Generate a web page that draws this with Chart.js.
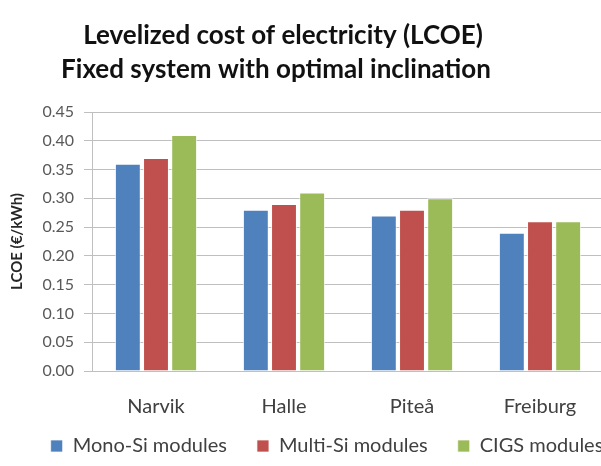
<!DOCTYPE html>
<html>
<head>
<meta charset="utf-8">
<script src="https://cdn.jsdelivr.net/npm/chart.js@4"></script>
<style>
  html, body { margin: 0; padding: 0; background: #fff; overflow: hidden; }
  #wrap { width: 654px; height: 466px; }
</style>
</head>
<body>
<div id="wrap"><canvas id="lcoeChart"></canvas></div>
<script>
const sites = ['Narvik', 'Halle', 'Piteå', 'Freiburg'];
const monoSi = [0.36, 0.28, 0.27, 0.24];
const multiSi = [0.37, 0.29, 0.28, 0.26];
const cigs = [0.41, 0.31, 0.30, 0.26];
const titleLines = ['Levelized cost of electricity (LCOE)', 'Fixed system with optimal inclination'];

// two-line heading, drawn a bit left of the canvas centre
const headingPlugin = {
  id: 'heading',
  afterDraw(chart) {
    const c = chart.ctx;
    c.save();
    c.font = 'bold 26px Lato';
    c.fillStyle = '#111';
    c.textAlign = 'center';
    c.textBaseline = 'middle';
    c.fillText(titleLines[0], 283, 36);
    c.fillText(titleLines[1], 276, 70);
    c.restore();
  }
};

const ctx = document.getElementById('lcoeChart').getContext('2d');
new Chart(ctx, {
  type: 'bar',
  data: {
    labels: sites,
    datasets: [
      { label: 'Mono-Si modules', data: monoSi, backgroundColor: '#4F81BD' },
      { label: 'Multi-Si modules', data: multiSi, backgroundColor: '#C0504D' },
      { label: 'CIGS modules', data: cigs, backgroundColor: '#9BBB59' }
    ]
  },
  plugins: [headingPlugin],
  options: {
    responsive: true,
    maintainAspectRatio: false,
    animation: false,
    layout: { padding: { top: 112, right: 0, bottom: 0, left: 0 } },
    datasets: {
      bar: { categoryPercentage: 0.66, barPercentage: 0.92, borderColor: 'rgba(255,255,255,0.7)', borderWidth: 1 }
    },
    plugins: {
      title: { display: false },
      tooltip: { enabled: false },
      legend: {
        position: 'bottom',
        labels: {
          boxWidth: 12, boxHeight: 12, padding: 30,
          color: '#404040',
          font: { family: 'Lato', size: 20 }
        }
      }
    },
    scales: {
      x: {
        afterFit(scale) {
          // keep the legend close; let the labels run past the axis box
          scale.height = 35;
          scale._computeLabelArea = () => undefined;
        },
        grid: { display: false },
        border: { color: '#BFBFBF' },
        ticks: { color: '#404040', padding: 16, font: { family: 'Lato', size: 20 } }
      },
      y: {
        min: 0,
        max: 0.45,
        afterFit(scale) { scale.width = 92; },
        grid: { color: '#BFBFBF', tickLength: 8 },
        border: { color: '#BFBFBF' },
        ticks: {
          stepSize: 0.05, padding: 10, color: '#595959',
          font: { family: 'Lato', size: 16 },
          callback: v => v.toFixed(2)
        },
        title: {
          display: true, text: 'LCOE (€/kWh)', color: '#262626',
          padding: { top: 8, bottom: 0 },
          font: { family: 'Lato', size: 15, weight: 'bold' }
        }
      },
      // empty strip on the right so the plot stops short of the legend's full width
      spacer: {
        position: 'right',
        afterFit(scale) { scale.width = 50; },
        grid: { display: false },
        border: { display: false },
        ticks: { display: false }
      }
    }
  }
});
</script>
</body>
</html>
